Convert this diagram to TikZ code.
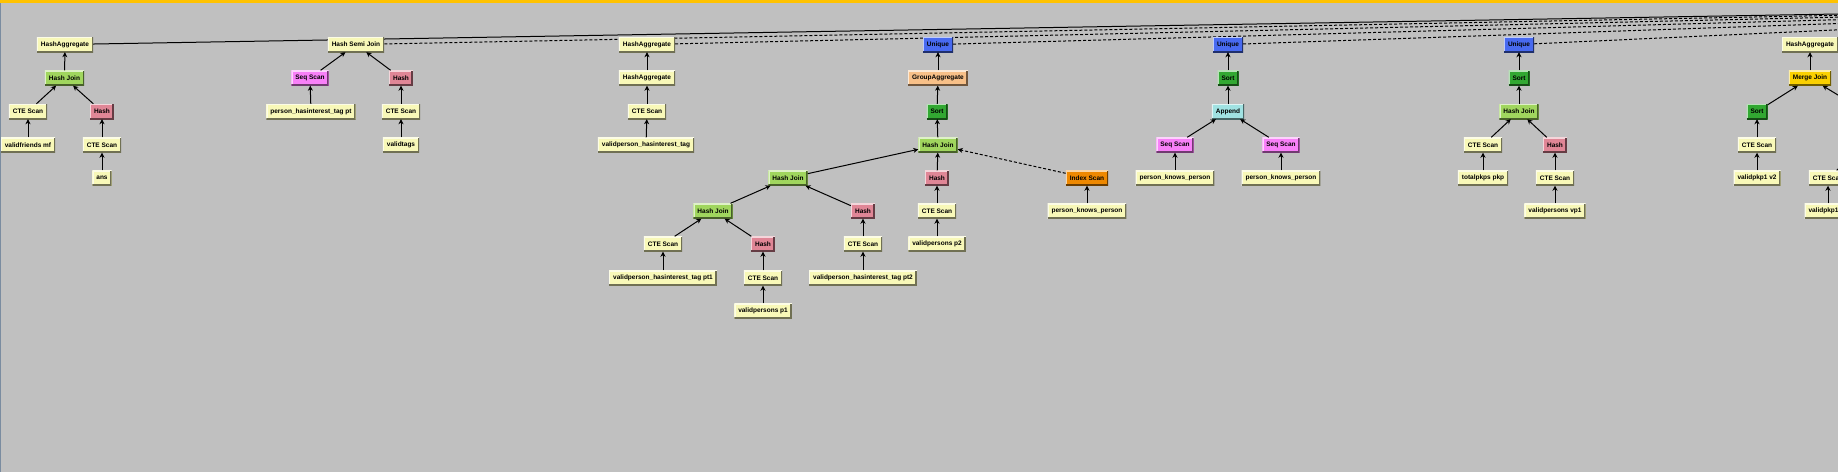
\documentclass[tikz,border=0pt]{standalone}
\usepackage{fontspec}
\setmainfont{Liberation Sans}
\usepackage{xcolor}
\usetikzlibrary{arrows.meta, positioning, backgrounds}
\definecolor{fond}{RGB}{192,192,192}
\definecolor{bande}{RGB}{255,194,0}
\definecolor{bord}{RGB}{122,140,160}
\definecolor{cjaune}{RGB}{248,248,184}
\definecolor{cvert}{RGB}{160,214,94}
\definecolor{crose}{RGB}{224,134,150}
\definecolor{cmagenta}{RGB}{248,128,248}
\definecolor{cbleu}{RGB}{72,106,240}
\definecolor{cpeche}{RGB}{248,192,136}
\definecolor{ctri}{RGB}{50,168,50}
\definecolor{corange}{RGB}{238,136,0}
\definecolor{ccyan}{RGB}{160,226,226}
\definecolor{cor}{RGB}{250,208,0}
\tikzstyle{fleche} = [-{Stealth[length = 5pt, width = 5pt, inset = 1.5pt]}, line width = 1pt, color = black]
\tikzstyle{pointille} = [dash pattern = on 3pt off 2pt]
\tikzset{op/.style = {rectangle, fill = #1, inner xsep = 4pt, inner ysep = 0pt, minimum height = 15pt,
    text = black, font = \bfseries\fontsize{6.5}{7}\selectfont,
    path picture = {
      \draw[#1!35!white, line width = 2.5pt] (path picture bounding box.south west) -- (path picture bounding box.north west) -- (path picture bounding box.north east);
      \draw[#1!45!black, line width = 3pt] (path picture bounding box.south west) -- (path picture bounding box.south east) -- (path picture bounding box.north east);}},
  op/.default = cjaune}

\begin{document}
\begin{tikzpicture}[x = 1pt, y = -1pt]
    \useasboundingbox (0, 0) rectangle (1838, 472);
    \clip (0, 0) rectangle (1838, 472);
    % Arbre 1
    \node[op] (ha1) at (65, 44.5) {HashAggregate};
    \node[op = cvert] (hj1) at (64.5, 78) {Hash Join};
    \node[op] (cte1a) at (28, 111.5) {CTE Scan};
    \node[op = crose] (hash1) at (102, 111.5) {Hash};
    \node[op] (vf) at (28, 145) {validfriends mf};
    \node[op] (cte1b) at (102, 145) {CTE Scan};
    \node[op] (ans) at (102, 178) {ans};
    % Arbre 2
    \node[op] (hsj) at (356, 44.5) {Hash Semi Join};
    \node[op = cmagenta] (seq2) at (310, 78) {Seq Scan};
    \node[op = crose] (hash2) at (401, 78) {Hash};
    \node[op] (pht) at (311, 111.5) {person\_hasinterest\_tag pt};
    \node[op] (cte2) at (401, 111.5) {CTE Scan};
    \node[op] (vt) at (401, 145) {validtags};
    % Arbre 3
    \node[op] (ha3a) at (647, 44.5) {HashAggregate};
    \node[op] (ha3b) at (647, 78) {HashAggregate};
    \node[op] (cte3) at (647, 111.5) {CTE Scan};
    \node[op] (vpht) at (646, 145) {validperson\_hasinterest\_tag};
    % Arbre 4
    \node[op = cbleu] (uq4) at (938, 44.5) {Unique};
    \node[op = cpeche] (ga4) at (938, 78) {GroupAggregate};
    \node[op = ctri] (sort4) at (937, 111.5) {Sort};
    \node[op = cvert] (hj4) at (938, 145) {Hash Join};
    \node[op = cvert] (hj4a) at (788, 178) {Hash Join};
    \node[op = crose] (hash4) at (937, 178) {Hash};
    \node[op = corange] (idx4) at (1087, 178) {Index Scan};
    \node[op = cvert] (hj4b) at (713, 211) {Hash Join};
    \node[op = crose] (hash4a) at (863, 211) {Hash};
    \node[op] (cte4) at (937, 211) {CTE Scan};
    \node[op] (pkp4) at (1087, 211) {person\_knows\_person};
    \node[op] (cte4a) at (663, 244) {CTE Scan};
    \node[op = crose] (hash4b) at (763, 244) {Hash};
    \node[op] (cte4b) at (863, 244) {CTE Scan};
    \node[op] (vp2) at (937, 244) {validpersons p2};
    \node[op] (pt1) at (663, 278) {validperson\_hasinterest\_tag pt1};
    \node[op] (cte4c) at (763, 278) {CTE Scan};
    \node[op] (pt2) at (863, 278) {validperson\_hasinterest\_tag pt2};
    \node[op] (vp1) at (763, 311) {validpersons p1};
    % Arbre 5
    \node[op = cbleu] (uq5) at (1228, 44.5) {Unique};
    \node[op = ctri] (sort5) at (1228, 78) {Sort};
    \node[op = ccyan] (app5) at (1228, 111.5) {Append};
    \node[op = cmagenta] (seq5a) at (1175, 145) {Seq Scan};
    \node[op = cmagenta] (seq5b) at (1281, 145) {Seq Scan};
    \node[op] (pkp5a) at (1175, 178) {person\_knows\_person};
    \node[op] (pkp5b) at (1281, 178) {person\_knows\_person};
    % Arbre 6
    \node[op = cbleu] (uq6) at (1519, 44.5) {Unique};
    \node[op = ctri] (sort6) at (1519, 78) {Sort};
    \node[op = cvert] (hj6) at (1519, 111.5) {Hash Join};
    \node[op] (cte6a) at (1483, 145) {CTE Scan};
    \node[op = crose] (hash6) at (1555, 145) {Hash};
    \node[op] (tp) at (1483, 178) {totalpkps pkp};
    \node[op] (cte6b) at (1555, 178) {CTE Scan};
    \node[op] (vpp) at (1555, 211) {validpersons vp1};
    % Arbre 7 (coupé à droite)
    \node[op] (ha7) at (1810, 44.5) {HashAggregate};
    \node[op = cor] (mj7) at (1810, 78) {Merge Join};
    \node[op = ctri] (sort7) at (1757, 111.5) {Sort};
    \node[op] (cte7a) at (1757, 145) {CTE Scan};
    \node[op] (vk2) at (1757, 178) {validpkp1 v2};
    \node[op] (cte7b) at (1828, 178) {CTE Scan};
    \node[op] (vk1) at (1828, 211) {validpkp1 v1};
    \coordinate (mjr) at (1865, 111.5);
    \coordinate (hjr) at (1865, 145);
    \coordinate (cible) at (2390, 4.5);
    % Fond et liens vers le haut
    \begin{scope}[on background layer]
      \fill[fond] (0, 0) rectangle (1838, 472);
      \draw[line width = 1pt] (ha1) -- (cible);
      \foreach \n in {hsj, ha3a, uq4, uq5, uq6}
        \draw[line width = 1pt, pointille] (\n) -- (cible);
    \end{scope}
    % Fleches
    \foreach \a/\b in {hj1/ha1, cte1a/hj1, hash1/hj1, vf/cte1a, cte1b/hash1, ans/cte1b,
        seq2/hsj, hash2/hsj, pht/seq2, cte2/hash2, vt/cte2,
        ha3b/ha3a, cte3/ha3b, vpht/cte3,
        ga4/uq4, sort4/ga4, hj4/sort4, hj4a/hj4, hash4/hj4, hj4b/hj4a, hash4a/hj4a, cte4/hash4,
        pkp4/idx4, cte4a/hj4b, hash4b/hj4b, cte4b/hash4a, vp2/cte4, pt1/cte4a, cte4c/hash4b,
        pt2/cte4b, vp1/cte4c,
        sort5/uq5, app5/sort5, seq5a/app5, seq5b/app5, pkp5a/seq5a, pkp5b/seq5b,
        sort6/uq6, hj6/sort6, cte6a/hj6, hash6/hj6, tp/cte6a, cte6b/hash6, vpp/cte6b,
        mj7/ha7, sort7/mj7, cte7a/sort7, vk2/cte7a, vk1/cte7b, mjr/mj7, cte7b/hjr}
      \draw[fleche] (\a) -- (\b);
    \draw[fleche, pointille] (idx4) -- (hj4);
    % Bordures
    \fill[bande] (0, 0) rectangle (1838, 3.3);
    \fill[bord] (0, 3.3) rectangle (1.3, 472);
\end{tikzpicture}
\end{document}
